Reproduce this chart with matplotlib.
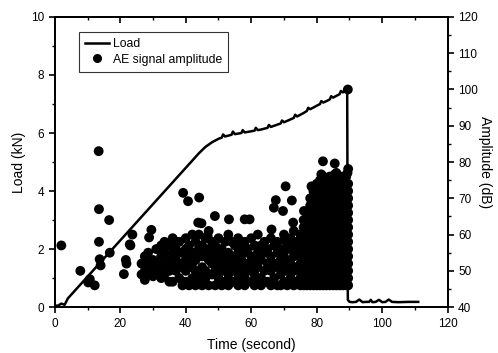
import matplotlib
matplotlib.use("Agg")
import matplotlib.pyplot as plt
from matplotlib.lines import Line2D
from matplotlib.ticker import MultipleLocator

plt.rcParams['font.family'] = ['Liberation Sans', 'DejaVu Sans']

# load curve (time s, load kN)
load_time = [0, 1, 2, 3, 4, 6, 8, 10, 12, 14, 16, 18, 20, 22, 24, 26, 28, 30,
             32, 34, 36, 38, 40, 42, 44, 46, 48, 50, 51, 51.4, 52, 53, 54, 54.4,
             55, 56, 57, 57.4, 58, 59, 60, 61, 61.4, 62, 63, 64, 65, 65.4, 66,
             67, 68, 69, 69.4, 70, 71, 72, 73, 73.4, 74, 75, 76, 77, 77.4, 78,
             79, 80, 81, 81.4, 82, 83, 84, 84.4, 85, 86, 87, 87.4, 88, 89.3,
             89.5, 90, 91, 92, 93, 94, 95, 96, 96.5, 97, 98, 99, 100, 101,
             102, 103, 105, 108, 111]
load_kn = [0.05, 0.05, 0.12, 0.08, 0.3, 0.55, 0.8, 1.05, 1.3, 1.55, 1.8, 2.05,
           2.3, 2.55, 2.8, 3.05, 3.3, 3.55, 3.8, 4.05, 4.3, 4.55, 4.8, 5.05,
           5.3, 5.52, 5.68, 5.8, 5.84, 5.95, 5.88, 5.91, 5.94, 6.05, 5.96,
           5.98, 6.0, 6.1, 6.02, 6.04, 6.06, 6.08, 6.18, 6.1, 6.12, 6.15,
           6.18, 6.28, 6.21, 6.25, 6.29, 6.33, 6.43, 6.37, 6.42, 6.47, 6.52,
           6.63, 6.57, 6.63, 6.69, 6.76, 6.87, 6.82, 6.88, 6.94, 7.0, 7.1,
           7.05, 7.1, 7.16, 7.27, 7.22, 7.28, 7.34, 7.45, 7.4, 7.52,
           0.25, 0.18, 0.17, 0.18, 0.26, 0.17, 0.18, 0.18, 0.25, 0.17, 0.18,
           0.25, 0.17, 0.18, 0.26, 0.18, 0.17, 0.18, 0.18]

# isolated AE hits (time s, amplitude dB)
iso_time = [2.0, 7.8, 10.2, 10.7, 12.2, 13.4, 13.5, 13.5, 13.7, 14.0, 16.6,
            16.8, 21.1, 21.7, 21.9, 23.1, 23.7, 22.9, 29.5, 28.8, 39.2, 40.7,
            44.1, 43.8, 48.9, 53.2, 58.0, 59.5, 44.8, 46.7, 66.2, 70.5, 67.5,
            66.9, 69.7, 72.4, 72.8, 78.4, 76.1, 81.9, 85.5, 89.6, 81.4, 85.5,
            89.5, 70.2, 89.4]
iso_amp = [57, 50, 46.8, 47.7, 46, 83, 67, 58, 53.2, 51.5, 64, 55, 49.1, 53,
           52, 57, 60, 57.3, 61.3, 59.2, 71.5, 69.2, 70.2, 63.3, 65.1, 64.2,
           64.2, 64.2, 63.1, 59.6, 61.4, 73.3, 69.5, 67.4, 66.5, 69.4, 63.3,
           73.3, 66.5, 80.2, 79.6, 78.1, 76.6, 76.6, 100, 58.5, 77]

# band of hits between 26 s and 75 s
band_time = [26.5, 27.5, 28.5, 30, 31, 32.5, 33.5, 35, 36, 37, 38, 39, 40, 41,
             42, 43, 44, 45, 46, 47, 48, 49, 50, 51, 52, 53, 54, 55, 56, 57,
             58, 59, 60, 61, 62, 63, 64, 65, 66, 67, 68, 69, 70, 71, 72, 73, 74]
band_amps = [[52, 49], [54, 50, 47.5], [55, 52, 49], [53, 48.5, 51],
             [56, 52, 50], [57, 54, 51, 48], [58, 55, 52, 49], [57, 53, 50, 47],
             [59, 55, 52, 47], [56, 53, 50, 58], [58, 52, 48, 55], [55, 51, 46],
             [59, 56, 53, 50, 47], [57, 54, 51, 46], [60, 55, 52, 48],
             [58, 53, 50, 46], [60, 56, 54, 49, 47], [57, 51, 46, 54],
             [59, 55, 50, 48], [61, 56, 53, 46], [58, 55, 52, 49],
             [57, 54, 50, 46], [59, 55, 52, 48], [56, 53, 50, 46],
             [58, 54, 51, 47], [60, 55, 52, 49, 46], [58, 53, 50, 47],
             [57, 54, 47, 51], [59, 55, 52, 49, 46], [57, 53, 50, 47],
             [58, 55, 48, 46, 52], [56, 52, 50], [59, 54, 51, 47],
             [57, 53, 49, 46], [60, 55, 51, 48], [57, 53, 48, 46],
             [58, 55, 50, 47], [56, 52, 47], [59, 54, 50, 46], [57, 52, 48],
             [58, 55, 51, 46], [56, 53, 49, 46], [60, 55, 51, 47],
             [57, 53, 50, 46], [59, 56, 52, 48], [61, 57, 54, 50, 46],
             [58, 55, 51, 47]]

# dense burst before failure
blob_time = [75, 76, 77, 78, 79, 80, 81, 82, 83, 84, 85, 86, 87, 88, 89, 89.6]
blob_amps = [
    [46, 48, 50, 52, 54, 56, 58, 60],
    [46, 48, 50, 52, 54, 56, 58, 60, 62, 64],
    [46, 48, 50, 52, 54, 56, 58, 60, 62, 64, 66],
    [46, 48, 50, 52, 54, 56, 58, 60, 62, 64, 66, 68, 70],
    [46, 48, 50, 52, 54, 56, 58, 60, 62, 64, 66, 68, 70, 72],
    [46, 48, 50, 52, 54, 56, 58, 60, 62, 64, 66, 68, 70, 72, 74],
    [46, 48, 50, 52, 54, 56, 58, 60, 62, 64, 66, 68, 70, 72, 74, 75],
    [46, 48, 50, 52, 54, 56, 58, 60, 62, 64, 66, 68, 70, 72, 74, 76],
    [46, 48, 50, 52, 54, 56, 58, 60, 62, 64, 66, 68, 70, 72, 74],
    [46, 48, 50, 52, 54, 56, 58, 60, 62, 64, 66, 68, 70, 72, 74, 76],
    [46, 48, 50, 52, 54, 56, 58, 60, 62, 64, 66, 68, 70, 72, 74, 76],
    [46, 48, 50, 52, 54, 56, 58, 60, 62, 64, 66, 68, 70, 72, 74, 77],
    [46, 48, 50, 52, 54, 56, 58, 60, 62, 64, 66, 68, 70, 72, 74, 76],
    [46, 48, 50, 52, 54, 56, 58, 60, 62, 64, 66, 68, 70, 72, 74, 76],
    [46, 48, 50, 52, 54, 56, 58, 60, 62, 64, 66, 68, 70, 72, 74, 76],
    [46, 48, 50, 52, 54, 56, 58, 60, 62, 64, 66, 68, 70, 72, 74],
]

ae_t = list(iso_time)
ae_a = list(iso_amp)
for t, amps in zip(band_time + blob_time, band_amps + blob_amps):
    for a in amps:
        ae_t.append(t)
        ae_a.append(a)

fig = plt.figure(figsize=(4.98, 3.53), dpi=100)
ax = fig.add_axes([0.110, 0.130, 0.789, 0.822])
ax2 = ax.twinx()

ax.plot(load_time, load_kn, color='black', lw=1.8, zorder=3)
ax2.scatter(ae_t, ae_a, s=50, color='black', edgecolors='none', zorder=2)

ax.set_xlim(0, 120)
ax.set_ylim(0, 10)
ax2.set_ylim(40, 120)

ax.xaxis.set_major_locator(MultipleLocator(20))
ax.xaxis.set_minor_locator(MultipleLocator(10))
ax.yaxis.set_major_locator(MultipleLocator(2))
ax.yaxis.set_minor_locator(MultipleLocator(1))
ax2.yaxis.set_major_locator(MultipleLocator(10))
ax2.yaxis.set_minor_locator(MultipleLocator(5))

ax.tick_params(axis='both', which='major', direction='out', length=4,
               width=1.2, labelsize=8.5, top=False)
ax.tick_params(axis='both', which='minor', direction='out', length=2.5,
               width=1.0, top=False)
ax2.tick_params(axis='y', which='major', direction='out', length=4,
                width=1.2, labelsize=8.5)
ax2.tick_params(axis='y', which='minor', direction='out', length=2.5,
                width=1.0)

# inward ticks on the top edge
top = ax.secondary_xaxis('top')
top.xaxis.set_major_locator(MultipleLocator(20))
top.xaxis.set_minor_locator(MultipleLocator(10))
top.tick_params(which='major', direction='in', length=4, width=1.2,
                labeltop=False)
top.tick_params(which='minor', direction='in', length=2.5, width=1.0)
top.spines['top'].set_linewidth(1.3)

for a in (ax, ax2):
    for s in a.spines.values():
        s.set_linewidth(1.3)

ax.set_xlabel('Time (second)', fontsize=10, labelpad=6)
ax.set_ylabel('Load (kN)', fontsize=10, labelpad=4)
ax2.set_ylabel('Amplitude (dB)', fontsize=10, rotation=-90, labelpad=10)

handles = [Line2D([], [], color='black', lw=1.8),
           Line2D([], [], color='black', marker='o', ls='none', markersize=5.5)]
leg = ax2.legend(handles, ['Load', 'AE signal amplitude'],
                 loc='upper left', bbox_to_anchor=(0.045, 0.97),
                 fontsize=8.8, frameon=True, fancybox=False, handlelength=2.0,
                 handletextpad=0.3, borderpad=0.5, labelspacing=0.3)
leg.get_frame().set_edgecolor('black')
leg.get_frame().set_linewidth(0.8)

fig.savefig('out.png', dpi=100)
